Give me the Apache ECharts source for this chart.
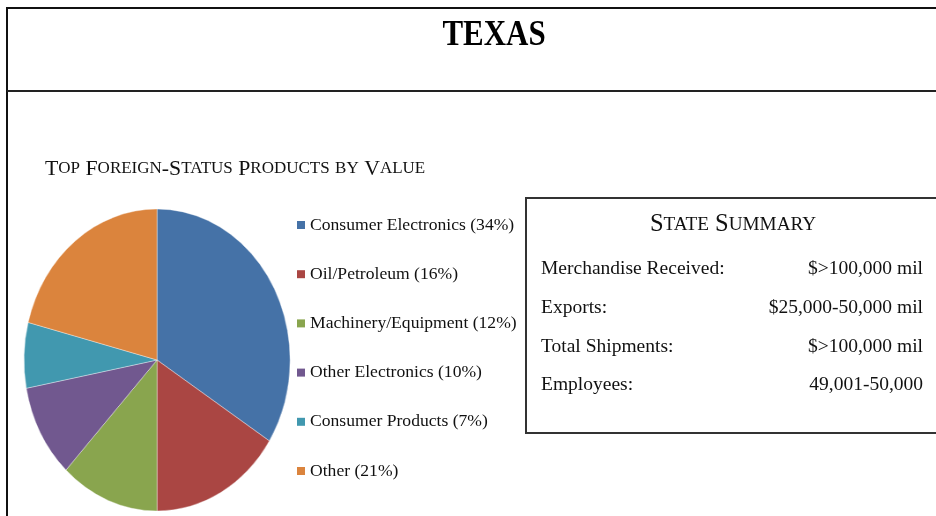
<!DOCTYPE html>
<html>
<head>
<meta charset="utf-8">
<script src="https://cdn.jsdelivr.net/npm/echarts@6/dist/echarts.min.js"></script>
<style>
  html, body { margin: 0; padding: 0; background: #fff; }
  #wrap { position: relative; width: 936px; height: 516px; overflow: hidden; }
  /* the source pie is stretched into an ellipse, so the pie gets its own squeezed canvas */
  #pie-chart { position: absolute; left: 0; top: 0; width: 340px; height: 516px;
    transform: scaleX(0.881); transform-origin: 0 0; }
  #main-chart { position: absolute; left: 0; top: 0; width: 936px; height: 516px; }
</style>
</head>
<body>
<div id="wrap">
  <div id="pie-chart"></div>
  <div id="main-chart"></div>
</div>
<script>
const stateName = 'TEXAS';
const chartTitle = 'Top Foreign-Status Products by Value';
const categories = ['Consumer Electronics', 'Oil/Petroleum', 'Machinery/Equipment', 'Other Electronics', 'Consumer Products', 'Other'];
const shares = [34, 16, 12, 10, 7, 21];
const summaryTitle = 'State Summary';
const summaryLabels = ['Merchandise Received:', 'Exports:', 'Total Shipments:', 'Employees:'];
const summaryValues = ['$>100,000 mil', '$25,000-50,000 mil', '$>100,000 mil', '49,001-50,000'];

const palette = ['#4572a7', '#aa4643', '#89a54e', '#71588f', '#4198af', '#db843d'];
const serif = '"Liberation Serif", "Times New Roman", serif';

const pieData = categories.map(function (c, i) { return { name: c, value: shares[i] }; });

// small caps: capitals stay big, lower case letters become small capitals
function smallCaps(str, big, small) {
  let out = '';
  let run = '';
  let runType = null;
  for (const ch of str) {
    const t = (ch >= 'a' && ch <= 'z') ? small : big;
    if (t !== runType && run) { out += '{' + runType + '|' + run + '}'; run = ''; }
    runType = t;
    run += t === small ? ch.toUpperCase() : ch;
  }
  if (run) out += '{' + runType + '|' + run + '}';
  return out;
}
const capsRich = {
  b: { fontFamily: serif, fontSize: 21.8, fill: '#111' },
  s: { fontFamily: serif, fontSize: 17, fill: '#111' },
  B: { fontFamily: serif, fontSize: 24.5, fill: '#111' },
  S: { fontFamily: serif, fontSize: 19.2, fill: '#111' }
};

const pieChart = echarts.init(document.getElementById('pie-chart'));
pieChart.setOption({
  color: palette,
  animation: false,
  series: [{
    type: 'pie',
    center: [157 / 0.881, 360],
    radius: 151,
    startAngle: 90,
    label: { show: false },
    labelLine: { show: false },
    itemStyle: { borderColor: 'rgba(255,255,255,0.6)', borderWidth: 0.6 },
    data: pieData
  }]
});

const rows = [];
summaryLabels.forEach(function (lab, i) {
  const y = 268 + i * 38.7;
  rows.push({ type: 'text', left: 541, top: y - 9, style: { text: lab, fontFamily: serif, fontSize: 19.5, fill: '#111' } });
  rows.push({ type: 'text', right: 936 - 923, top: y - 9, style: { text: summaryValues[i], fontFamily: serif, fontSize: 19.5, fill: '#111', textAlign: 'right' } });
});

const myChart = echarts.init(document.getElementById('main-chart'));
myChart.setOption({
  color: palette,
  animation: false,
  legend: {
    orient: 'vertical',
    left: 297,
    top: 215,
    padding: 0,
    icon: 'rect',
    itemWidth: 8,
    itemHeight: 8,
    itemGap: 29.2,
    selectedMode: false,
    textStyle: { fontFamily: serif, fontSize: 17.6, color: '#111', lineHeight: 20 },
    formatter: function (name) {
      return name + ' (' + shares[categories.indexOf(name)] + '%)';
    },
    data: categories
  },
  graphic: [
    { type: 'line', shape: { x1: 6, y1: 8, x2: 940, y2: 8 }, style: { stroke: '#111', lineWidth: 2 } },
    { type: 'line', shape: { x1: 7, y1: 7, x2: 7, y2: 520 }, style: { stroke: '#111', lineWidth: 2 } },
    { type: 'line', shape: { x1: 7, y1: 91, x2: 940, y2: 91 }, style: { stroke: '#222', lineWidth: 2 } },
    {
      type: 'text', x: 494, y: 36, scaleX: 0.86,
      style: { text: stateName, fontFamily: serif, fontSize: 36, fontWeight: 'bold', fill: '#000', textAlign: 'center', textVerticalAlign: 'middle' }
    },
    {
      type: 'text', x: 45, y: 169,
      style: { text: smallCaps(chartTitle, 'b', 's'), rich: capsRich, textVerticalAlign: 'middle' }
    },
    { type: 'rect', shape: { x: 526, y: 198, width: 430, height: 235 }, style: { fill: 'none', stroke: '#333', lineWidth: 2 } },
    {
      type: 'text', x: 733, y: 225,
      style: { text: smallCaps(summaryTitle, 'B', 'S'), rich: capsRich, textAlign: 'center', textVerticalAlign: 'middle' }
    }
  ].concat(rows),
  series: [{
    // only feeds the legend; the visible pie is drawn in the squeezed chart below
    type: 'pie',
    center: [-100, -100],
    radius: 0,
    silent: true,
    label: { show: false },
    labelLine: { show: false },
    data: pieData
  }]
});
</script>
</body>
</html>
